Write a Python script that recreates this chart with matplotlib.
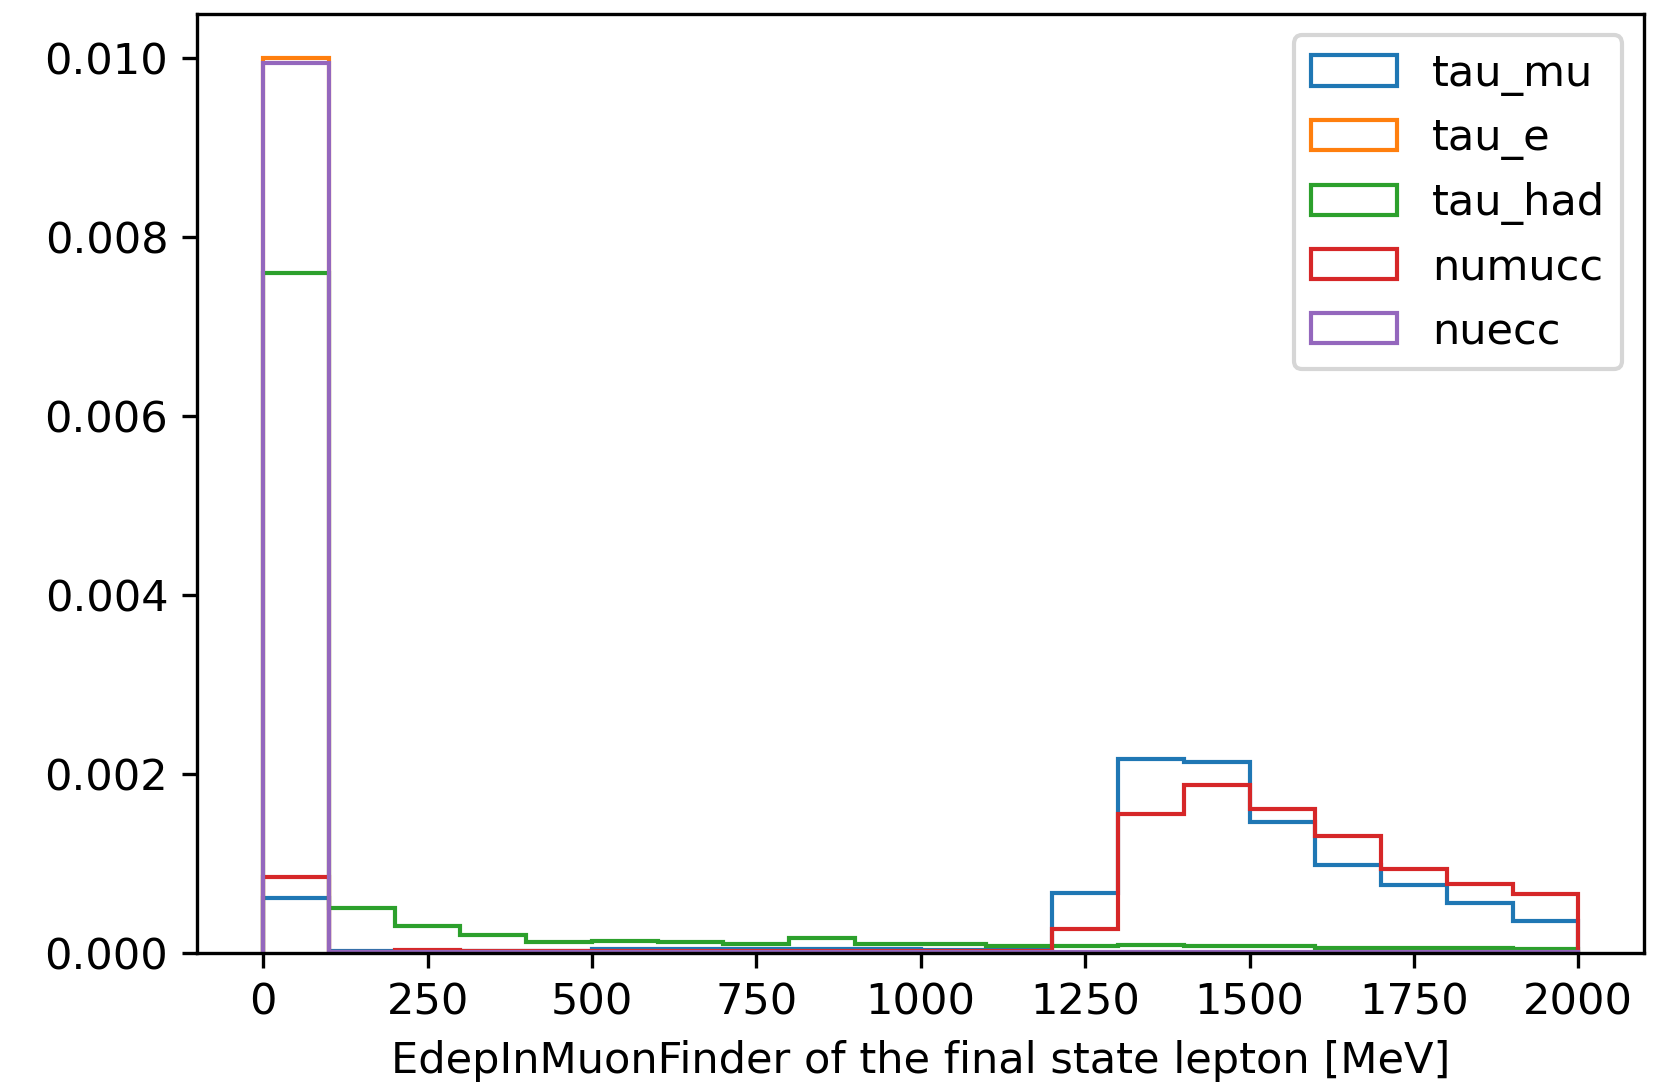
import numpy as np
import matplotlib
matplotlib.use("Agg")
import matplotlib.pyplot as plt

plt.rcParams["font.size"] = 10.37

edges = np.arange(0, 2001, 100)
labels = ["tau_mu", "tau_e", "tau_had", "numucc", "nuecc"]

tau_mu = [0.00061, 0.00002, 0.00002, 0.00002, 0.00002, 0.00004, 0.00004, 0.00004,
          0.00004, 0.00004, 0.00003, 0.00003, 0.00067, 0.00216, 0.00213, 0.00146,
          0.00098, 0.00075, 0.00055, 0.00035]
tau_e = [0.0100] + [0.0] * 19
tau_had = [0.0076, 0.00050, 0.00030, 0.00020, 0.00012, 0.000134, 0.00012, 0.00010,
           0.00016, 0.00009, 0.00010, 0.00007, 0.00007, 0.00008, 0.00007, 0.00007,
           0.00005, 0.00005, 0.00005, 0.00004]
numucc = [0.00085, 0.00001, 0.00003, 0.00002, 0.00002, 0.00002, 0.00002, 0.00002,
          0.00002, 0.00002, 0.00002, 0.00002, 0.00026, 0.00155, 0.00187, 0.00160,
          0.00130, 0.00093, 0.00077, 0.00065]
nuecc = [0.00995] + [0.000003] * 19

series = [tau_mu, tau_e, tau_had, numucc, nuecc]
colors = ["#1f77b4", "#ff7f0e", "#2ca02c", "#d62728", "#9467bd"]

fig = plt.figure(figsize=(1665 / 300, 1086 / 300), dpi=300)
ax = fig.add_axes([0.1186, 0.1229, 0.9874 - 0.1186, 0.9873 - 0.1229])

centers = (edges[:-1] + edges[1:]) / 2
for vals, lab, c in zip(series, labels, colors):
    ax.hist(centers, bins=edges, weights=vals, histtype="step", color=c,
            label=lab, linewidth=1.0)

ax.set_xlim(-100, 2100)
ax.set_ylim(0, 0.0105)
ax.set_yticks([0, 0.002, 0.004, 0.006, 0.008, 0.010])
ax.set_yticklabels(["0.000", "0.002", "0.004", "0.006", "0.008", "0.010"])
ax.set_xticks([0, 250, 500, 750, 1000, 1250, 1500, 1750, 2000])
ax.set_xlabel("EdepInMuonFinder of the final state lepton [MeV]")
ax.legend(loc="upper right")

fig.savefig("out.png", dpi=300)
